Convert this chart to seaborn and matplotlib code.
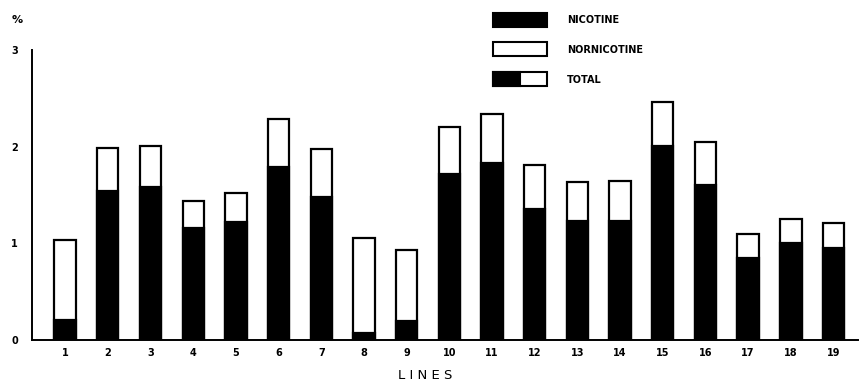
import numpy as np
import pandas as pd
import seaborn as sns
import matplotlib.pyplot as plt
from matplotlib.patches import Rectangle

lines = [str(i) for i in range(1, 20)]
nicotine = [0.21, 1.54, 1.58, 1.16, 1.22, 1.79, 1.48, 0.07, 0.20, 1.72,
            1.83, 1.36, 1.23, 1.23, 2.01, 1.60, 0.85, 1.00, 0.95]
total = [1.04, 1.99, 2.01, 1.44, 1.52, 2.29, 1.98, 1.06, 0.93, 2.21,
         2.34, 1.81, 1.64, 1.65, 2.46, 2.05, 1.10, 1.25, 1.21]

df = pd.DataFrame({"line": lines, "nicotine": nicotine, "total": total})

sns.set_style("white")
plt.rcParams['font.family'] = ['DejaVu Sans']
plt.rcParams['text.color'] = 'black'
plt.rcParams['xtick.color'] = 'black'
plt.rcParams['ytick.color'] = 'black'
plt.rcParams['axes.labelcolor'] = 'black'

fig = plt.figure(figsize=(8.6, 3.86), dpi=100)
ax = fig.add_axes([0.037, 0.119, 0.961, 0.751])

# white total bar first, black nicotine part on top of it
sns.barplot(data=df, x="line", y="total", color="white", edgecolor="black",
            linewidth=1.6, width=0.5, ax=ax, saturation=1)
sns.barplot(data=df, x="line", y="nicotine", color="black", edgecolor="black",
            linewidth=1.6, width=0.5, ax=ax, saturation=1)

ax.set_xlim(-0.78, 18.58)
ax.set_ylim(0, 3)
ax.set_yticks([0, 1, 2, 3])
ax.set_yticklabels(["0", "1", "2", "3"], fontsize=7, fontweight="bold")
ax.set_xticks(range(len(lines)))
ax.set_xticklabels(lines, fontsize=7, fontweight="bold")
ax.tick_params(axis="y", direction="in", length=3, width=1.2, pad=10)
ax.tick_params(axis="x", length=0, pad=6)
ax.set_xlabel("L I N E S", fontsize=9.5)
ax.xaxis.set_label_coords(0.476, -0.1)
ax.set_ylabel("")
for s in ["top", "right"]:
    ax.spines[s].set_visible(False)
for s in ["left", "bottom"]:
    ax.spines[s].set_color("black")
    ax.spines[s].set_linewidth(1.4)

fig.text(0.013, 0.94, "%", fontsize=8, fontweight="bold")

# hand-drawn style legend in the top right
W, H = 860, 386
def box(x0, y0, w, h, fc):
    fig.patches.append(Rectangle((x0 / W, 1 - (y0 + h) / H), w / W, h / H,
                                 transform=fig.transFigure, facecolor=fc,
                                 edgecolor="black", linewidth=1.5))

box(493, 13, 54, 14, "black")
box(493, 42, 54, 14, "white")
box(493, 72, 54, 14, "white")
box(493, 72, 27, 14, "black")
for label, yy in [("NICOTINE", 20), ("NORNICOTINE", 50), ("TOTAL", 80)]:
    fig.text(567 / W, 1 - yy / H, label, fontsize=7, fontweight="bold",
             va="center")

fig.savefig("out.png", dpi=100, facecolor="white")
